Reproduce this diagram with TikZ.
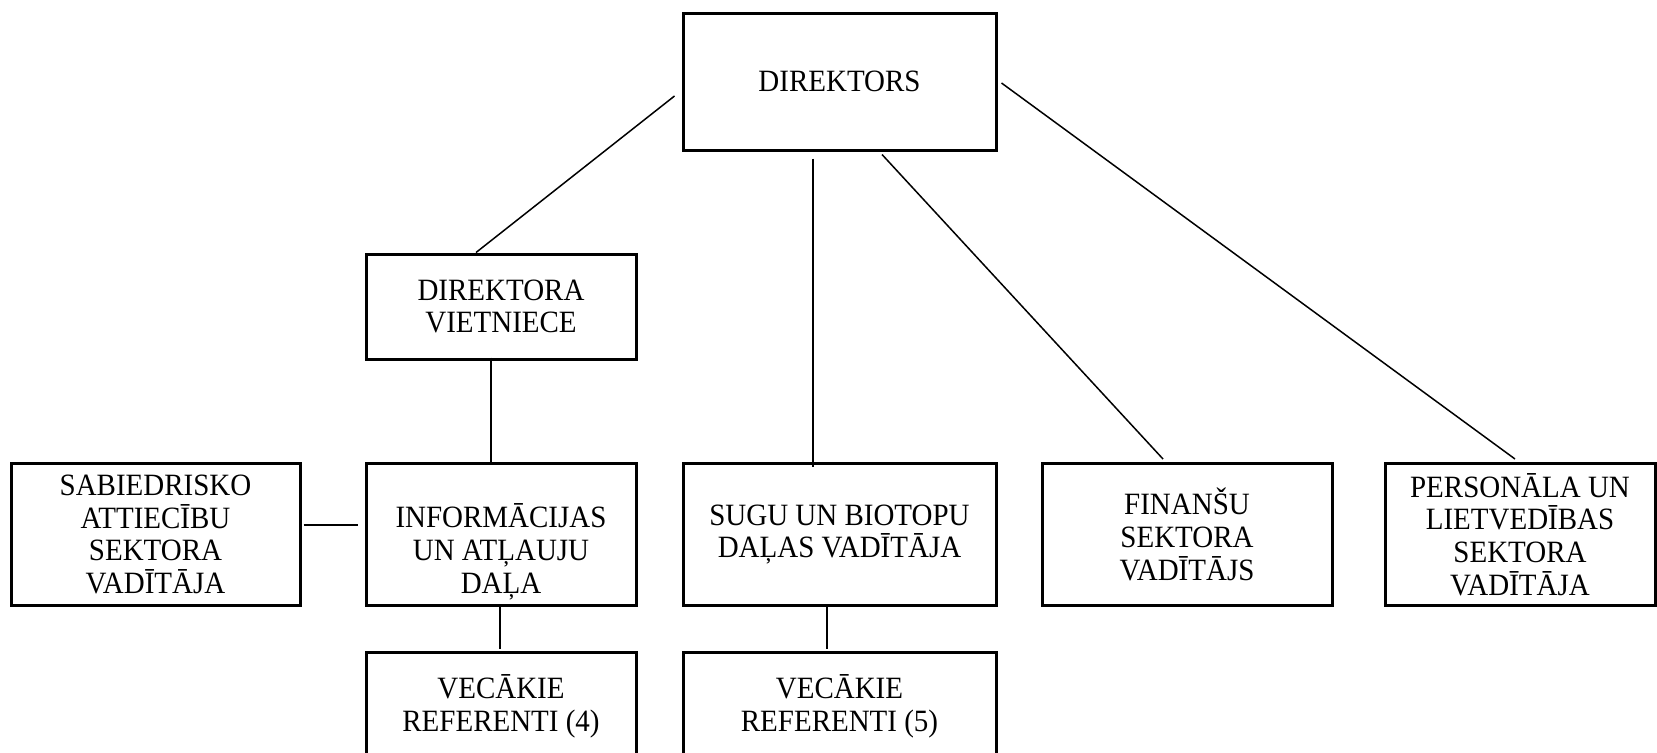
\documentclass[tikz,border=0pt]{standalone}
\usepackage{fontspec}
\setmainfont[FakeStretch=0.935]{Liberation Serif}
\usetikzlibrary{calc}
\tikzset{
  box/.style={draw=black, line width=1.5pt, rectangle, inner sep=0pt, align=center,
    font=\fontsize{15.5pt}{16.3pt}\selectfont},
  conn/.style={draw=black, line width=0.75pt},
}
\begin{document}
\begin{tikzpicture}[x=0.5pt, y=-0.5pt]
\useasboundingbox (0,0) rectangle (1657,752);
\clip (0,0) rectangle (1657,752);
% boxes (pixel coordinates, y downward; sizes in pt = px/2)
\node[box, minimum width=156.5pt, minimum height=68.5pt] (dir)  at (839.5,81.5) {DIREKTORS};
\node[box, minimum width=135pt, minimum height=52.5pt] (viet) at (501,306.5) {DIREKTORA\\VIETNIECE};
\node[box, minimum width=144.5pt, minimum height=71pt] (sab)  at (155.5,534.5) {SABIEDRISKO\\ATTIECĪBU\\SEKTORA\\VADĪTĀJA};
\node[box, minimum width=135pt, minimum height=71pt] (info) at (501,534.5) {\strut\\INFORMĀCIJAS\\UN ATĻAUJU\\DAĻA};
\node[box, minimum width=156.5pt, minimum height=71pt] (sugu) at (839.5,534.5) {SUGU UN BIOTOPU\\DAĻAS VADĪTĀJA};
\node[box, minimum width=145pt, minimum height=71pt] (fin)  at (1187,534.5) {FINANŠU\\SEKTORA\\VADĪTĀJS};
\node[box, minimum width=135pt, minimum height=71pt] (pers) at (1520,534.5) {PERSONĀLA UN\\LIETVEDĪBAS\\SEKTORA\\VADĪTĀJA};
\node[box, minimum width=135pt, minimum height=54pt] (vec4) at (501,706) {VECĀKIE\\REFERENTI (4)};
\node[box, minimum width=156.5pt, minimum height=54pt] (vec5) at (839.5,706) {VECĀKIE\\REFERENTI (5)};
% connectors
\draw[conn] ($(dir.west)+(-7,14.5)$) -- ($(viet.north)+(-25,0)$);
\draw[conn] ($(viet.south)+(-10,-3)$) -- ($(info.north)+(-10,0)$);
\draw[conn] ($(dir.south)+(-26.5,7)$) -- ($(sugu.north)+(-26.5,5)$);
\draw[conn] ($(dir.south)+(42.5,3)$) -- ($(fin.north)+(-24,-3)$);
\draw[conn] ($(dir.east)+(4,1.5)$) -- ($(pers.north)+(-5,-3)$);
\draw[conn] ($(sab.east)+(2,-9.5)$) -- ($(info.west)+(-7,-9.5)$);
\draw[conn] ($(info.south)+(-1,0)$) -- ($(vec4.north)+(-1,-2)$);
\draw[conn] ($(sugu.south)+(-12.5,-3)$) -- ($(vec5.north)+(-12.5,-2)$);
\end{tikzpicture}
\end{document}
